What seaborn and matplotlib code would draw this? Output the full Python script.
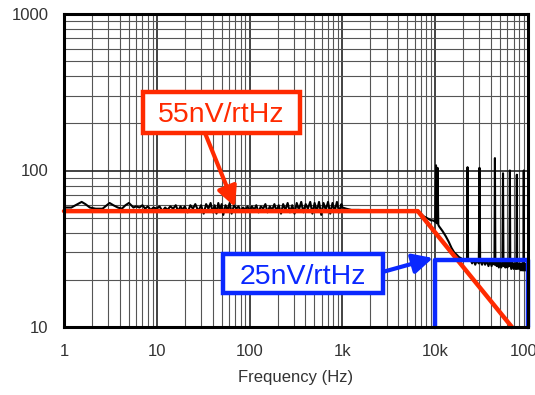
import matplotlib
matplotlib.use("Agg")
import matplotlib.pyplot as plt
import matplotlib.ticker as mticker
from matplotlib.patches import Rectangle
import seaborn as sns
import pandas as pd

# ---------------- data ----------------
noise_freq = [
    1.0, 1.2, 1.4, 1.55, 1.7, 1.9, 2.2, 2.6, 2.9, 3.1, 3.4, 3.8, 4.2, 4.6, 5.0, 5.3, 5.6, 6.0,
    6.5, 7, 7.5, 8, 8.6, 9.2, 10, 10.7, 11.5, 12.3, 13, 14, 15, 16, 17, 18, 19, 20, 21.5, 23,
    24.5, 26, 28, 30, 32, 34, 36, 38, 40, 42, 44, 46, 48, 50, 52, 55, 58, 61, 64, 68, 72, 76,
    80, 85, 90, 95, 100, 106, 112, 118, 125, 132, 140, 148, 156, 165, 175, 185, 195, 206, 218,
    230, 243, 257, 272, 288, 305, 322, 340, 360, 380, 402, 425, 450, 475, 502, 530, 560, 592,
    626, 662, 700, 740, 782, 826, 873, 923, 975, 1000,
    1100, 1250, 1500, 2000, 2500, 3000, 4000, 5000, 6000, 6500,
    7000, 7500, 8000, 8500, 9000, 9500, 10000, 10200, 10400, 10600, 10800, 11000, 12000, 13000,
    14000, 15000, 16000, 17000, 18000, 19000, 20000, 21000, 22000, 22300, 22600,
    24000, 25000, 26000, 27000, 28000, 29500, 30000, 30500, 32000, 33000, 34500, 36000,
    37500, 39000, 40500, 42000, 43500, 44000, 44500, 46000, 47000, 48500, 50000, 51500,
    53000, 53800, 54400, 56000, 57000, 58500, 60000, 61500, 63000, 63800, 64400, 66000,
    68000, 70000, 72000, 73500, 75000, 75800, 76400, 78000, 80000, 82000, 84000, 86000,
    88000, 89500, 90000, 90500, 92000, 94000, 96000, 97000, 98500, 100000,
]
noise_nv = [
    58, 58, 61, 63, 61, 58, 57, 57, 60, 62, 60, 58, 57, 60, 62, 60, 58, 59,
    58, 60, 57, 59, 56, 58, 57, 59, 55, 58, 56, 59, 57, 60, 55, 59, 56, 59, 54, 60,
    57, 61, 55, 60, 53, 61, 57, 62, 54, 60, 53, 62, 56, 61, 52, 60, 56, 62, 53, 60, 57, 59,
    55, 58, 56, 59, 55, 59, 56, 60, 54, 59, 57, 61, 54, 59, 56, 61, 55, 60, 53,
    61, 56, 62, 54, 60, 53, 62, 56, 63, 54, 61, 57, 63, 53, 62, 55, 63, 52,
    62, 56, 63, 53, 62, 55, 63, 54, 61, 58,
    57, 56, 56, 55.5, 55, 55.5, 55, 55.5, 55, 54,
    53, 51, 50, 49, 48, 48, 47, 108, 46, 104, 45, 44, 41, 38,
    35, 32, 30, 29, 28, 27.5, 27, 26.5, 26.8, 105, 26.5,
    27, 25.5, 27, 25, 26.5, 25.5, 104, 26.5, 25, 27, 25, 26.5,
    24.5, 26.5, 24.5, 26.5, 25, 120, 26, 24.5, 26.5, 24, 26, 24,
    26, 96, 24.5, 26, 24, 26, 24, 26, 24.5, 100, 26, 23.5,
    26, 23.5, 25.5, 23.5, 25.5, 94, 23.5, 25.5, 23.5, 25.5, 23, 25.5,
    23, 25, 100, 23, 25.5, 23, 25, 23, 25, 24,
]

asym_freq = [1, 6500, 67000]
asym_nv = [55, 55, 10]

box_freq = [10000, 10000, 100000, 100000]
box_nv = [10, 26.8, 26.8, 10]

x_ticks = [1, 10, 100, 1000, 10000, 100000]
x_labels = ["1", "10", "100", "1k", "10k", "100k"]
y_ticks = [10, 100, 1000]
y_labels = ["10", "100", "1000"]

RED = "#ff2a00"
BLUE = "#0a28ff"

# ---------------- figure ----------------
sns.set_style("white")
plt.rcParams["font.family"] = ["Liberation Sans", "DejaVu Sans"]

W, H = 535, 395
fig = plt.figure(figsize=(W / 100, H / 100), dpi=100)
ax = fig.add_axes([64 / W, (H - 327) / H, (528 - 64) / W, (327 - 14) / H])

df_noise = pd.DataFrame({"f": noise_freq, "v": noise_nv})
df_asym = pd.DataFrame({"f": asym_freq, "v": asym_nv})
df_box = pd.DataFrame({"f": box_freq, "v": box_nv})

sns.lineplot(data=df_noise, x="f", y="v", ax=ax, color="black", lw=1.5,
             estimator=None, sort=False, zorder=3)
sns.lineplot(data=df_asym, x="f", y="v", ax=ax, color=RED, lw=3.2,
             estimator=None, sort=False, zorder=4)
sns.lineplot(data=df_box, x="f", y="v", ax=ax, color=BLUE, lw=3.2,
             estimator=None, sort=False, zorder=4)
for ln in ax.lines:
    ln.set_clip_on(False)

ax.set_xscale("log")
ax.set_yscale("log")
ax.set_xlim(1, 100000)
ax.set_ylim(10, 1000)

ax.xaxis.set_major_locator(mticker.FixedLocator(x_ticks))
ax.xaxis.set_major_formatter(mticker.FixedFormatter(x_labels))
ax.yaxis.set_major_locator(mticker.FixedLocator(y_ticks))
ax.yaxis.set_major_formatter(mticker.FixedFormatter(y_labels))
ax.xaxis.set_minor_locator(mticker.LogLocator(base=10, subs=range(2, 10), numticks=20))
ax.yaxis.set_minor_locator(mticker.LogLocator(base=10, subs=range(2, 10), numticks=20))
ax.xaxis.set_minor_formatter(mticker.NullFormatter())
ax.yaxis.set_minor_formatter(mticker.NullFormatter())

ax.grid(which="major", color="#222222", lw=1.2, zorder=0)
ax.grid(which="minor", color="#555555", lw=0.8, zorder=0)
ax.set_axisbelow(True)
ax.tick_params(which="both", length=0, labelsize=12, colors="#333333")
ax.tick_params(axis="x", pad=12)
ax.tick_params(axis="y", pad=11)

for s in ax.spines.values():
    s.set_visible(True)
    s.set_color("black")
    s.set_linewidth(2.2)
    s.set_zorder(5)

ax.set_xlabel("Frequency (Hz)", fontsize=12, color="#333333", labelpad=8)
ax.set_ylabel("")

# annotations: arrows
ax.annotate("", xy=(69.6, 58.5), xytext=(33, 174),
            arrowprops=dict(arrowstyle="-|>", lw=3, color=RED, mutation_scale=30,
                            shrinkA=0, shrinkB=0), zorder=6)
ax.annotate("", xy=(9470, 27.6), xytext=(2738, 22.5),
            arrowprops=dict(arrowstyle="-|>", lw=3, color=BLUE, mutation_scale=30,
                            shrinkA=0, shrinkB=0), zorder=6)


def label_box(x0, y0, x1, y1, text, color):
    rect = Rectangle((x0 / W, 1 - y1 / H), (x1 - x0) / W, (y1 - y0) / H,
                     transform=fig.transFigure, fc="white", ec=color, lw=3.2, zorder=7)
    fig.add_artist(rect)
    fig.text((x0 + x1) / 2 / W, 1 - (y0 + y1) / 2 / H, text, fontsize=20.5,
             color=color, ha="center", va="center_baseline", zorder=8)


label_box(143, 92, 300, 133, "55nV/rtHz", RED)
label_box(223, 254, 383, 293, "25nV/rtHz", BLUE)

fig.savefig("out.png", dpi=100)
